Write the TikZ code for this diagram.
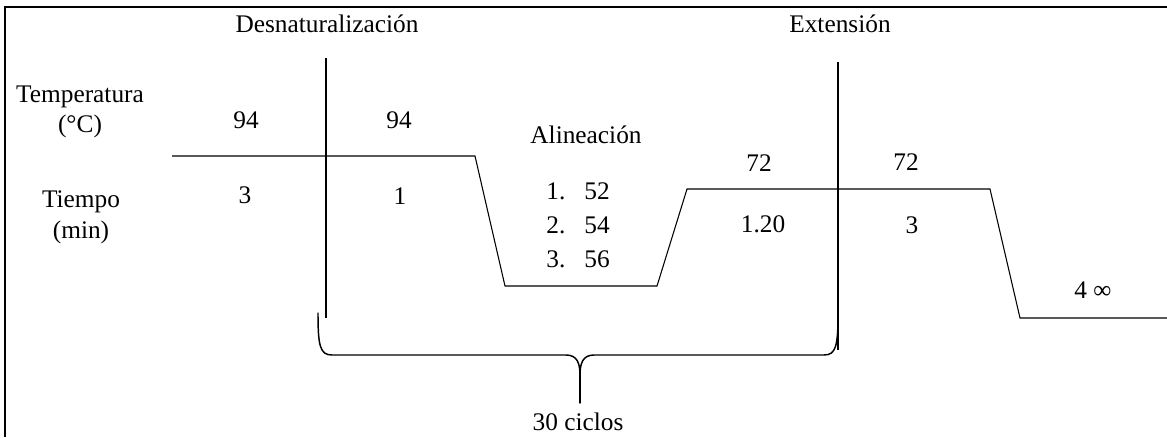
\documentclass[tikz,border=0pt]{standalone}
\usepackage{fontspec}
\setmainfont{Liberation Serif}
\usetikzlibrary{positioning}

\begin{document}
\begin{tikzpicture}[
  x=0.75pt, y=-0.75pt,
  font=\fontsize{19}{23}\selectfont,
  lbl/.style={anchor=base, inner sep=0pt},
  frame/.style={line width=1.4pt},
  profile/.style={line width=0.8pt},
  marker/.style={line width=0.8pt},
  brace/.style={line width=1.1pt, line cap=round}
]
\useasboundingbox (0,0) rectangle (1167,437);
% frame
\draw[frame] (5,437) -- (5,7) -- (1167,7);
% row headings
\node[lbl] (temp) at (80,102) {Temperatura};
\node[lbl] (tempunit) at (80,132) {(°C)};
\node[lbl] (time) at (81,207) {Tiempo};
\node[lbl] (timeunit) at (81,238) {(min)};
% stage names
\node[lbl] (denat) at (327,32) {Desnaturalización};
\node[lbl] (ext) at (840,32) {Extensión};
\node[lbl] (anneal) at (586,143) {Alineación};
% temperatures
\node[lbl] (tempA) at (246,128) {94};
\node[lbl] (tempB) at (399,128) {94};
\node[lbl] (tempC) at (759,171) {72};
\node[lbl] (tempD) at (906,170) {72};
\node[lbl] (hold) at (1093,298) {4 ∞};
% times
\node[lbl] (timeA) at (245,203) {3};
\node[lbl] (timeB) at (400,204) {1};
\node[lbl] (timeC) at (763,232) {1.20};
\node[lbl] (timeD) at (912,233) {3};
% annealing options
\node[lbl] (optA) at (578,199) {1.\hspace{0.75em}52};
\node[lbl] (optB) at (578,233) {2.\hspace{0.75em}54};
\node[lbl] (optC) at (578,267) {3.\hspace{0.75em}56};
% temperature profile
\coordinate (p0) at (172,156);
\coordinate (p1) at (475,156);
\coordinate (p2) at (505,286);
\coordinate (p3) at (657,286);
\coordinate (p4) at (687,189);
\coordinate (p5) at (990,189);
\coordinate (p6) at (1020,318);
\coordinate (p7) at (1167,318);
\draw[profile] (p0) -- (p1) -- (p2) -- (p3) -- (p4) -- (p5) -- (p6) -- (p7);
% cycle markers
\coordinate (mA) at (326,58);
\coordinate (mB) at (838,62);
\draw[marker] (mA) -- (mA |- 0,318);
\draw[marker] (mB) -- (mB |- 0,350);
% brace
\coordinate (bl) at (318,313);
\coordinate (tip) at (580,375);
\coordinate (br) at (838,313);
\coordinate (stem) at (580,403);
\draw[brace] (bl) .. controls (318,346) and (320,355) .. (332,355) -- (566,355)
  .. controls (577,355) and (580,363) .. (tip)
  .. controls (580,363) and (583,355) .. (594,355) -- (824,355)
  .. controls (836,355) and (838,346) .. (br);
\draw[brace] (tip) -- (stem);
\node[lbl] (cycles) at (578,430) {30 ciclos};
\end{tikzpicture}
\end{document}
